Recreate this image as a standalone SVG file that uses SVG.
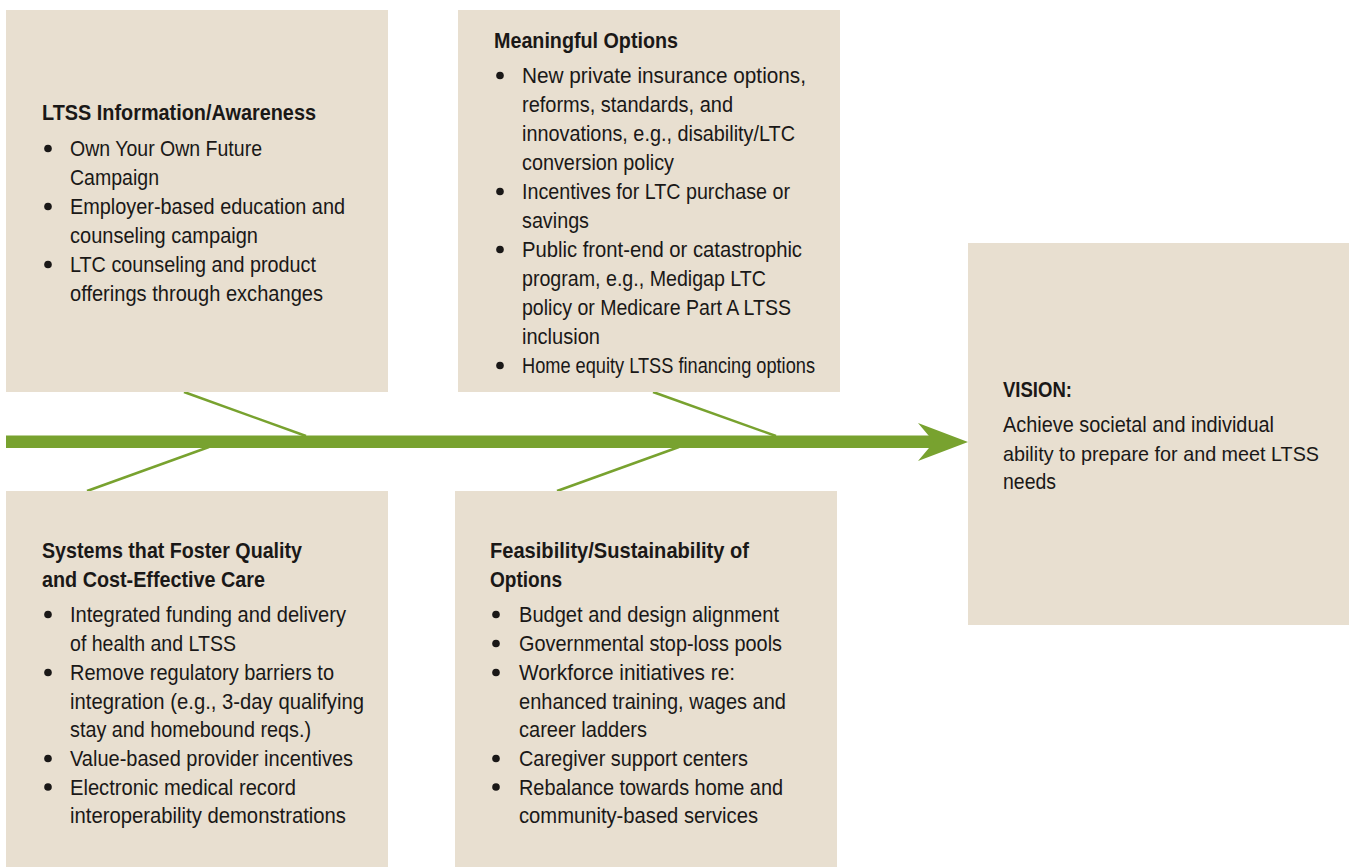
<svg xmlns="http://www.w3.org/2000/svg" width="1349" height="867" viewBox="0 0 1349 867">
<style>
.box{fill:#e8dfd0}
.t{font-family:"Liberation Sans",Arial,sans-serif;font-size:22px;fill:#1a1817}
.h{font-weight:bold}
.dot{fill:#1a1817}
.ln{stroke:#78a22f;stroke-width:2.5;fill:none}
</style>
<rect width="1349" height="867" fill="#ffffff"/>
<g id="connectors">
<rect x="6" y="435.5" width="929" height="12.5" fill="#78a22f"/>
<polygon points="918,423 968,442 918,461 934,442" fill="#78a22f"/>
<line class="ln" x1="184" y1="392" x2="306" y2="436"/>
<line class="ln" x1="87" y1="491" x2="209" y2="447"/>
<line class="ln" x1="653" y1="392" x2="776" y2="436"/>
<line class="ln" x1="557" y1="491" x2="679" y2="447"/>
</g>
<g id="node-info">
<rect class="box" x="6" y="10" width="382" height="382"/>
<text class="t h" x="42" y="120" textLength="274" lengthAdjust="spacingAndGlyphs">LTSS Information/Awareness</text>
<circle class="dot" cx="48" cy="148.5" r="3.8"/>
<circle class="dot" cx="48" cy="206.5" r="3.8"/>
<circle class="dot" cx="48" cy="264.5" r="3.8"/>
<text class="t" x="70" y="156" textLength="192" lengthAdjust="spacingAndGlyphs">Own Your Own Future</text>
<text class="t" x="70" y="185" textLength="89" lengthAdjust="spacingAndGlyphs">Campaign</text>
<text class="t" x="70" y="214" textLength="275" lengthAdjust="spacingAndGlyphs">Employer-based education and</text>
<text class="t" x="70" y="243" textLength="188" lengthAdjust="spacingAndGlyphs">counseling campaign</text>
<text class="t" x="70" y="272" textLength="246" lengthAdjust="spacingAndGlyphs">LTC counseling and product</text>
<text class="t" x="70" y="301" textLength="253" lengthAdjust="spacingAndGlyphs">offerings through exchanges</text>
</g>
<g id="node-options">
<rect class="box" x="458" y="10" width="382" height="382"/>
<text class="t h" x="494" y="48" textLength="184" lengthAdjust="spacingAndGlyphs">Meaningful Options</text>
<circle class="dot" cx="500" cy="75.5" r="3.8"/>
<circle class="dot" cx="500" cy="191.5" r="3.8"/>
<circle class="dot" cx="500" cy="249.5" r="3.8"/>
<circle class="dot" cx="500" cy="365.5" r="3.8"/>
<text class="t" x="522" y="83" textLength="284" lengthAdjust="spacingAndGlyphs">New private insurance options,</text>
<text class="t" x="522" y="112" textLength="211" lengthAdjust="spacingAndGlyphs">reforms, standards, and</text>
<text class="t" x="522" y="141" textLength="273" lengthAdjust="spacingAndGlyphs">innovations, e.g., disability/LTC</text>
<text class="t" x="522" y="170" textLength="152" lengthAdjust="spacingAndGlyphs">conversion policy</text>
<text class="t" x="522" y="199" textLength="268" lengthAdjust="spacingAndGlyphs">Incentives for LTC purchase or</text>
<text class="t" x="522" y="228" textLength="67" lengthAdjust="spacingAndGlyphs">savings</text>
<text class="t" x="522" y="257" textLength="280" lengthAdjust="spacingAndGlyphs">Public front-end or catastrophic</text>
<text class="t" x="522" y="286" textLength="244" lengthAdjust="spacingAndGlyphs">program, e.g., Medigap LTC</text>
<text class="t" x="522" y="315" textLength="269" lengthAdjust="spacingAndGlyphs">policy or Medicare Part A LTSS</text>
<text class="t" x="522" y="344" textLength="78" lengthAdjust="spacingAndGlyphs">inclusion</text>
<text class="t" x="522" y="373" textLength="293" lengthAdjust="spacingAndGlyphs">Home equity LTSS financing options</text>
</g>
<g id="node-systems">
<rect class="box" x="6" y="491" width="382" height="376"/>
<text class="t h" x="42" y="558" textLength="260" lengthAdjust="spacingAndGlyphs">Systems that Foster Quality</text>
<text class="t h" x="42" y="587" textLength="223" lengthAdjust="spacingAndGlyphs">and Cost-Effective Care</text>
<circle class="dot" cx="48" cy="614.5" r="3.8"/>
<circle class="dot" cx="48" cy="672.5" r="3.8"/>
<circle class="dot" cx="48" cy="758.5" r="3.8"/>
<circle class="dot" cx="48" cy="787" r="3.8"/>
<text class="t" x="70" y="622" textLength="276" lengthAdjust="spacingAndGlyphs">Integrated funding and delivery</text>
<text class="t" x="70" y="651" textLength="166" lengthAdjust="spacingAndGlyphs">of health and LTSS</text>
<text class="t" x="70" y="680" textLength="264" lengthAdjust="spacingAndGlyphs">Remove regulatory barriers to</text>
<text class="t" x="70" y="708.5" textLength="294" lengthAdjust="spacingAndGlyphs">integration (e.g., 3-day qualifying</text>
<text class="t" x="70" y="737" textLength="241" lengthAdjust="spacingAndGlyphs">stay and homebound reqs.)</text>
<text class="t" x="70" y="766" textLength="283" lengthAdjust="spacingAndGlyphs">Value-based provider incentives</text>
<text class="t" x="70" y="794.5" textLength="226" lengthAdjust="spacingAndGlyphs">Electronic medical record</text>
<text class="t" x="70" y="823" textLength="276" lengthAdjust="spacingAndGlyphs">interoperability demonstrations</text>
</g>
<g id="node-feasibility">
<rect class="box" x="455" y="491" width="382" height="376"/>
<text class="t h" x="490" y="558" textLength="259" lengthAdjust="spacingAndGlyphs">Feasibility/Sustainability of</text>
<text class="t h" x="490" y="587" textLength="72" lengthAdjust="spacingAndGlyphs">Options</text>
<circle class="dot" cx="496" cy="614.5" r="3.8"/>
<circle class="dot" cx="496" cy="643.5" r="3.8"/>
<circle class="dot" cx="496" cy="672.5" r="3.8"/>
<circle class="dot" cx="496" cy="758.5" r="3.8"/>
<circle class="dot" cx="496" cy="787" r="3.8"/>
<text class="t" x="519" y="622" textLength="260" lengthAdjust="spacingAndGlyphs">Budget and design alignment</text>
<text class="t" x="519" y="651" textLength="263" lengthAdjust="spacingAndGlyphs">Governmental stop-loss pools</text>
<text class="t" x="519" y="680" textLength="216" lengthAdjust="spacingAndGlyphs">Workforce initiatives re:</text>
<text class="t" x="519" y="708.5" textLength="267" lengthAdjust="spacingAndGlyphs">enhanced training, wages and</text>
<text class="t" x="519" y="737" textLength="128" lengthAdjust="spacingAndGlyphs">career ladders</text>
<text class="t" x="519" y="766" textLength="229" lengthAdjust="spacingAndGlyphs">Caregiver support centers</text>
<text class="t" x="519" y="794.5" textLength="264" lengthAdjust="spacingAndGlyphs">Rebalance towards home and</text>
<text class="t" x="519" y="823" textLength="239" lengthAdjust="spacingAndGlyphs">community-based services</text>
</g>
<g id="node-vision">
<rect class="box" x="968" y="243" width="381" height="382"/>
<text class="t h" x="1003" y="397" textLength="69" lengthAdjust="spacingAndGlyphs">VISION:</text>
<text class="t" x="1003" y="432" textLength="271" lengthAdjust="spacingAndGlyphs">Achieve societal and individual</text>
<text class="t" x="1003" y="460.5" style="font-size:21px" textLength="316" lengthAdjust="spacingAndGlyphs">ability to prepare for and meet LTSS</text>
<text class="t" x="1003" y="489" textLength="53" lengthAdjust="spacingAndGlyphs">needs</text>
</g>
</svg>
